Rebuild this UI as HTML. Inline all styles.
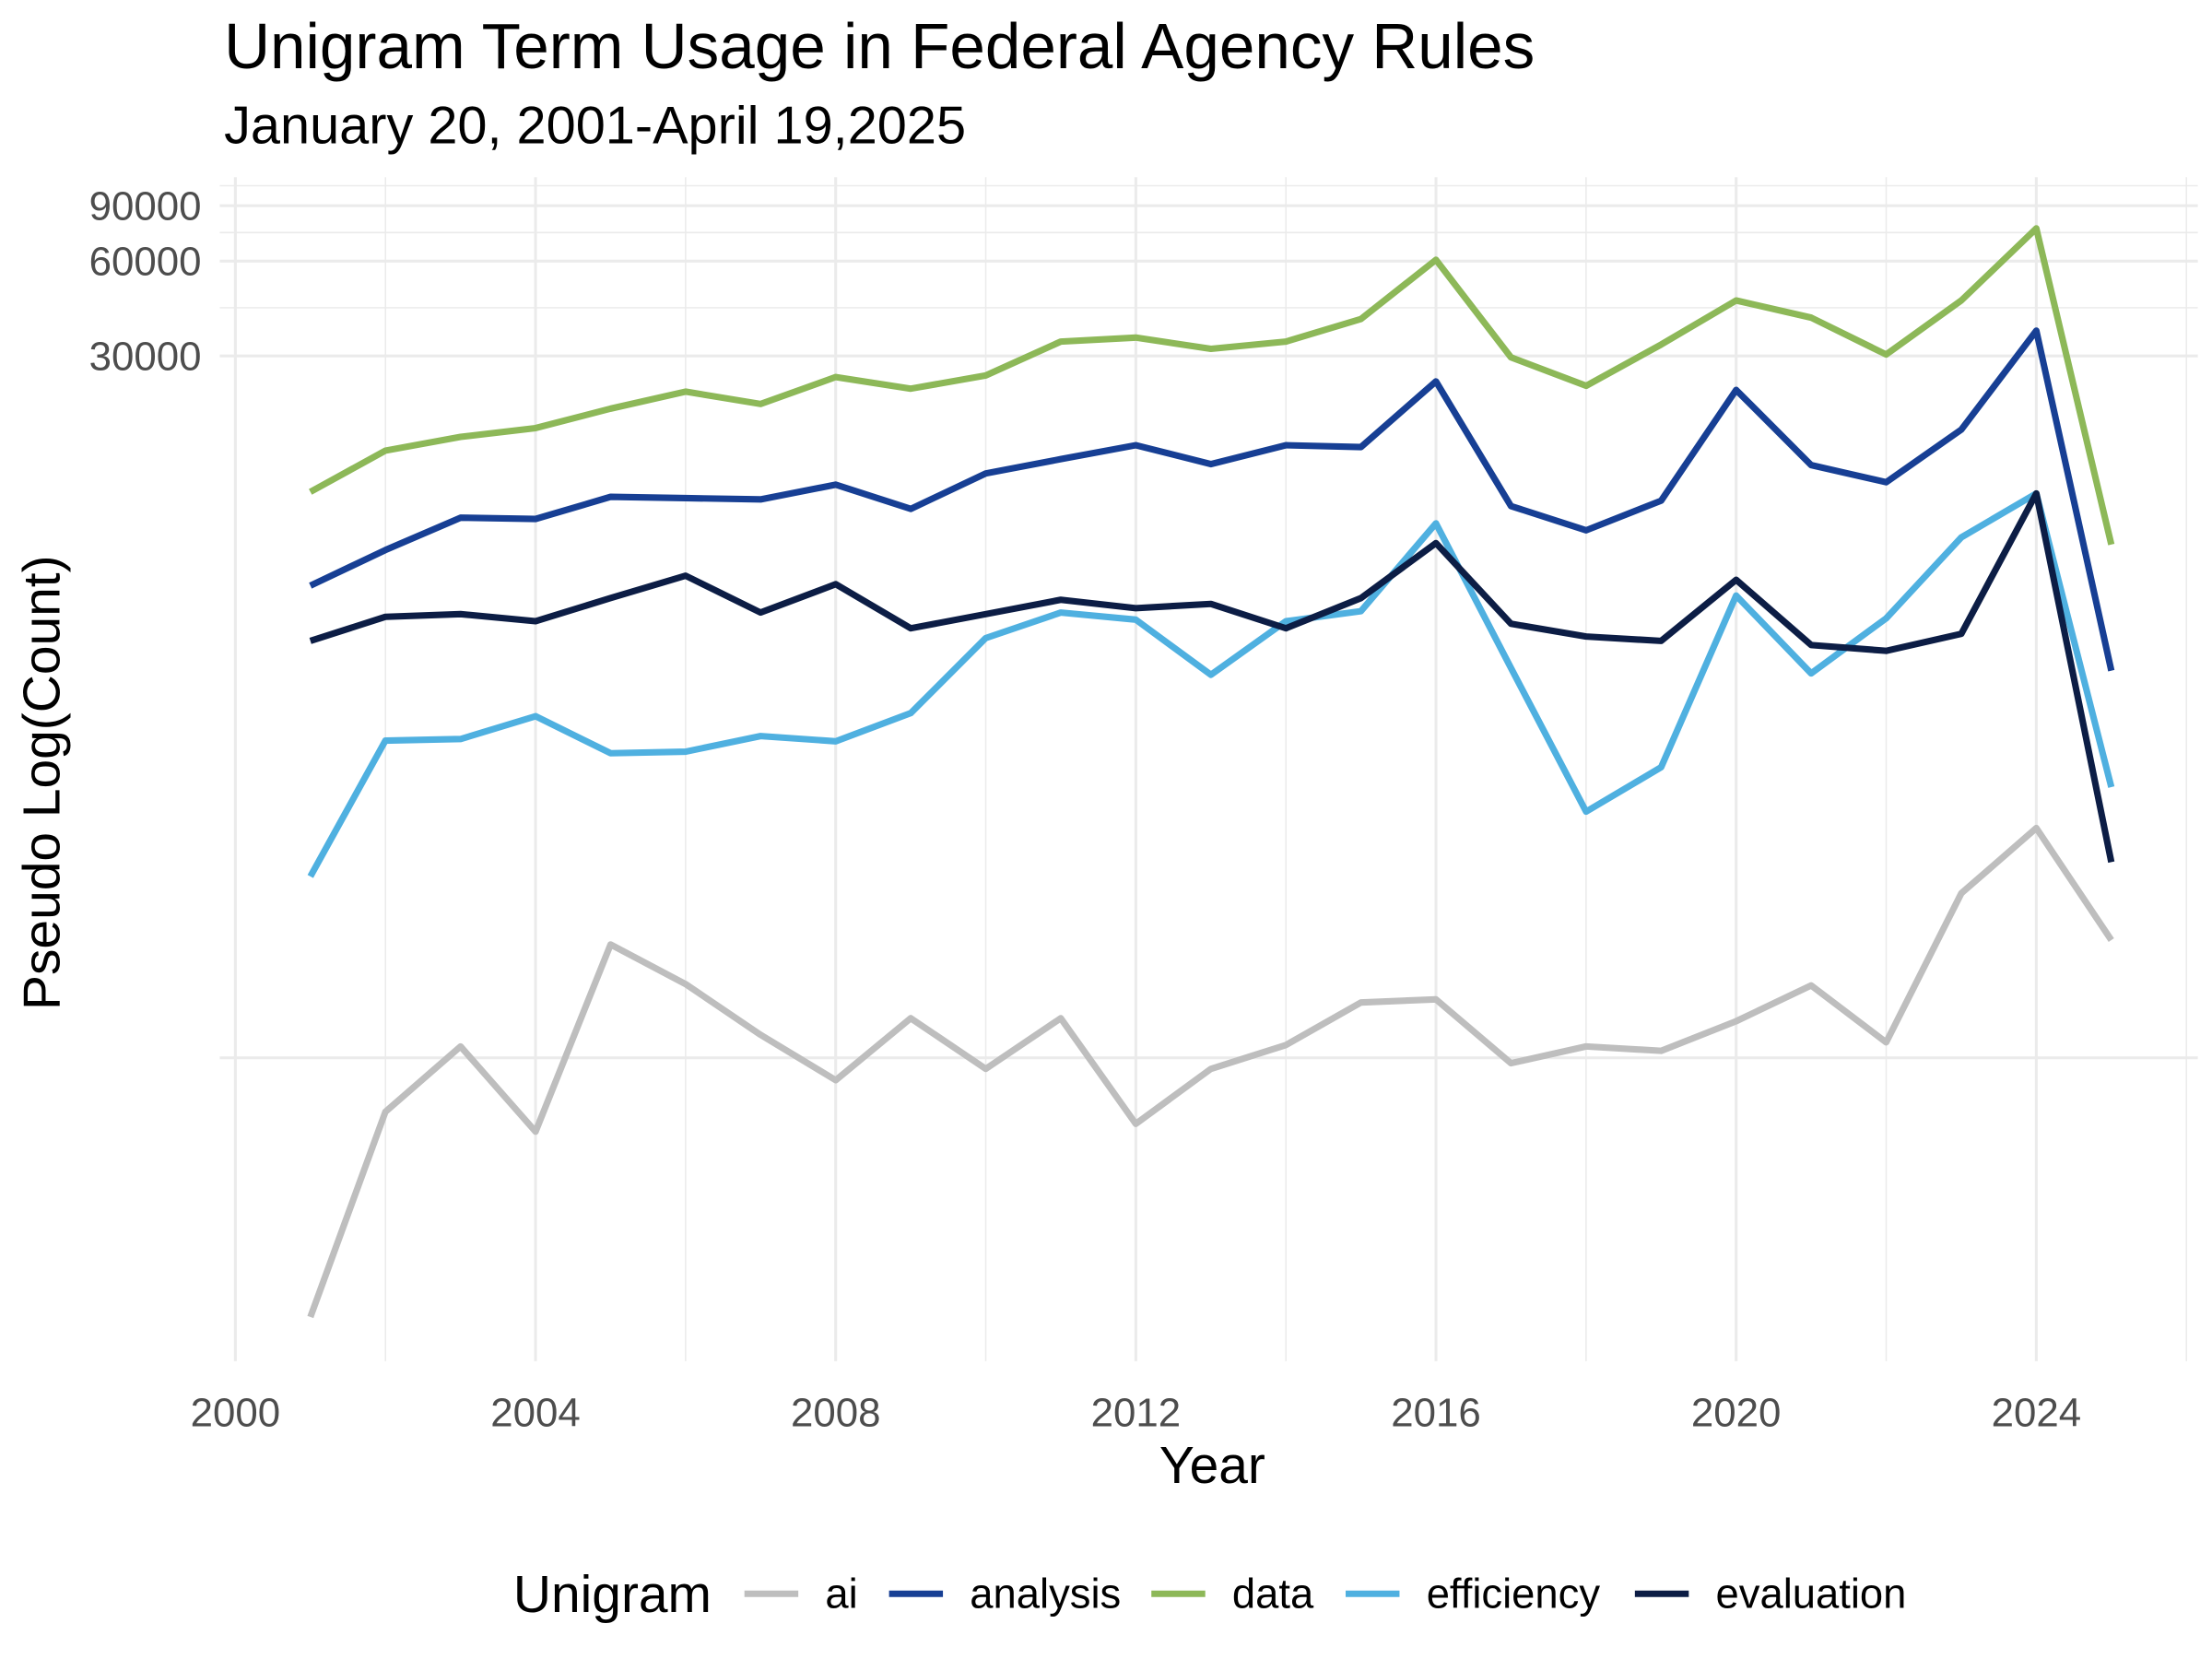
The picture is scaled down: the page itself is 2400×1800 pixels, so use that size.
<!DOCTYPE html>
<html><head><meta charset="utf-8"><style>
html,body{margin:0;padding:0;background:#fff}
svg{display:block;font-family:"Liberation Sans",sans-serif}
</style></head><body>
<svg id="chart" width="2400" height="1800" viewBox="0 0 1560 1170" xmlns="http://www.w3.org/2000/svg">
<rect width="1560" height="1170" fill="#fff"/>
<g id="grid"></g>
<g id="series"></g>
<g id="axes"></g>
<text x="158" y="48" font-size="45" fill="#000">Unigram Term Usage in Federal Agency Rules</text>
<text x="158" y="101" font-size="37.5" fill="#000">January 20, 2001-April 19,2025</text>
<text x="855" y="1046" font-size="37" text-anchor="middle" fill="#000">Year</text>
<text transform="translate(42,552) rotate(-90)" font-size="37" text-anchor="middle" fill="#000">Pseudo Log(Count)</text>
<g id="legend"></g>
</svg>
<script>
const years = [2001,2002,2003,2004,2005,2006,2007,2008,2009,2010,2011,2012,2013,2014,2015,2016,2017,2018,2019,2020,2021,2022,2023,2024,2025];
const seriesNames = ["ai","analysis","data","efficiency","evaluation"];
const aiValues = [26.5,119,192,103,405,303,209,150,236,163,236,109,163,194,265,271,170,192,186,231,300,198,589,949,418];
const analysisValues = [5590,7250,9190,9100,10700,10600,10500,11700,9800,12700,14100,15600,13600,15600,15400,24900,10000,8380,10400,23400,13500,11900,17500,36100,3000];
const dataValues = [11100,15000,16600,17700,20400,23100,21100,25700,23600,26000,33300,34300,31600,33300,39300,60600,29700,24100,32600,45000,39700,30300,45000,76200,7550];
const efficiencyValues = [666,1800,1820,2150,1640,1660,1860,1790,2200,3810,4590,4360,2910,4310,4640,8810,3060,1070,1480,5200,2940,4400,7950,10970,1280];
const evaluationValues = [3730,4450,4540,4310,5100,6010,4590,5650,4090,4540,5040,4740,4890,4090,5100,7630,4230,3850,3730,5830,3620,3470,3930,10970,740];
const yTickValues = [30000,60000,90000];
const yTickLabels = ["30000","60000","90000"];
const xTickValues = [2000,2004,2008,2012,2016,2020,2024];
const colors = ["#bebebe","#173f94","#8db858","#4fb0e0","#0c1d45"];
const allSeries = [aiValues,analysisValues,dataValues,efficiencyValues,evaluationValues];

const NS="http://www.w3.org/2000/svg";
function X(yr){return 166 + (yr-2000)*52.92;}
function tr(v){return Math.asinh(v/2)/Math.LN10;}
function Y(v){return 251 - 222*(tr(v)-tr(30000));}
function mk(tag,attrs,parent){const e=document.createElementNS(NS,tag);for(const k in attrs)e.setAttribute(k,attrs[k]);parent.appendChild(e);return e;}

const grid=document.getElementById('grid');
const PT=125,PB=960,PL=155,PR=1550;
[131,164,217].forEach(y=>{const l=mk('line',{x1:PL,x2:PR,y1:y,y2:y,stroke:'#ebebeb','stroke-width':1},grid);

});
[Y(90000),Y(60000),Y(30000),746].forEach(y=>{const l=mk('line',{x1:PL,x2:PR,y1:y,y2:y,stroke:'#ebebeb','stroke-width':2},grid);

});
for(let yr=2002;yr<=2026;yr+=4){const l=mk('line',{x1:X(yr),x2:X(yr),y1:PT,y2:PB,stroke:'#ebebeb','stroke-width':1},grid);

}
xTickValues.forEach(yr=>{const l=mk('line',{x1:X(yr),x2:X(yr),y1:PT,y2:PB,stroke:'#ebebeb','stroke-width':2},grid);

});

const axes=document.getElementById('axes');
yTickValues.forEach((v,i)=>{const t=mk('text',{x:142,y:Y(v)+10,'font-size':28.5,'text-anchor':'end',fill:'#4d4d4d'},axes);t.textContent=yTickLabels[i];

});
xTickValues.forEach(yr=>{const t=mk('text',{x:X(yr),y:1006,'font-size':28.5,'text-anchor':'middle',fill:'#4d4d4d'},axes);t.textContent=String(yr);

});

const sg=document.getElementById('series');
allSeries.forEach((vals,si)=>{const pts=vals.map((v,i)=>X(years[i]).toFixed(1)+','+Y(v).toFixed(1)).join(' ');
const p=mk('polyline',{points:pts,fill:'none',stroke:colors[si],'stroke-width':4.6,'stroke-linejoin':'round'},sg);

});

const lg=document.getElementById('legend');
const lt=mk('text',{x:362,y:1137,'font-size':37,fill:'#000'},lg);lt.textContent='Unigram';


const keyX=[525,627,812,949,1153];
seriesNames.forEach((n,i)=>{
const g=mk('g',{},lg);


mk('line',{x1:keyX[i],x2:keyX[i]+38,y1:1124,y2:1124,stroke:colors[i],'stroke-width':4.6},g);
const t=mk('text',{x:keyX[i]+57,y:1134,'font-size':29.5,fill:'#000'},g);t.textContent=n;});
</script>
</body></html>
